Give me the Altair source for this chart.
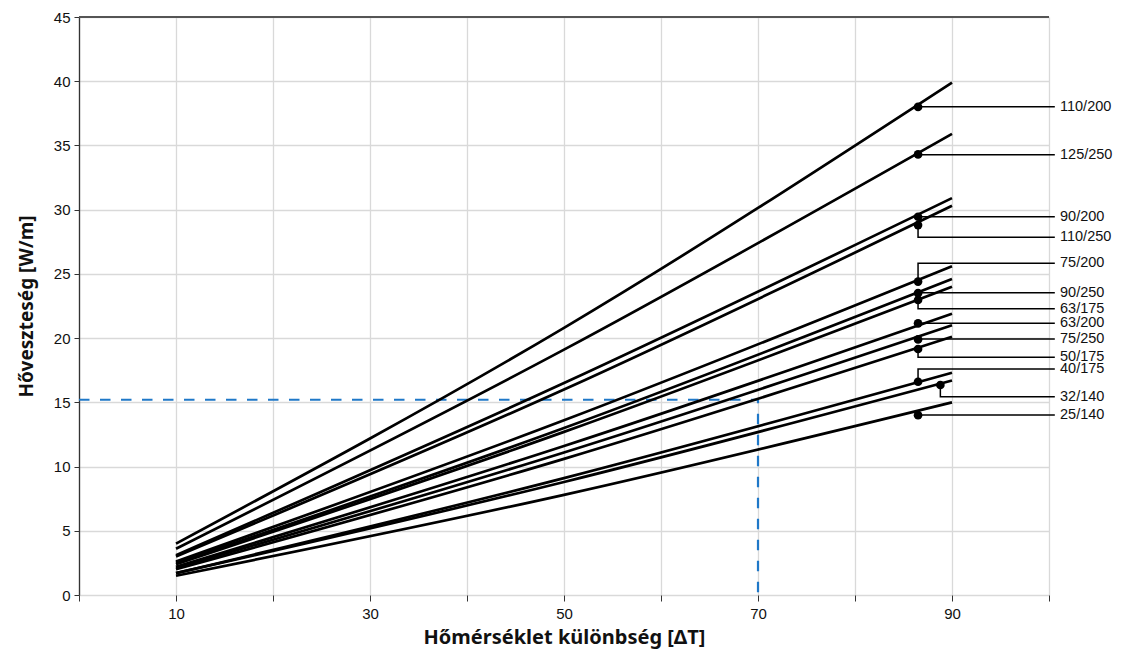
import altair as alt
import pandas as pd

# ---- data ----
series = ["110/200", "125/250", "90/200", "110/250", "75/200", "90/250", "63/175",
          "63/200", "75/250", "50/175", "40/175", "32/140", "25/140"]
dt_points = [10, 50, 90]
q_at_10 = [4.0, 3.6, 3.1, 3.0, 2.6, 2.5, 2.4, 2.2, 2.1, 2.0, 1.7, 1.7, 1.5]
q_at_50 = [20.8, 19.1, 16.5, 16.0, 13.6, 13.0, 12.7, 11.6, 11.1, 10.6, 9.1, 8.8, 7.8]
q_at_90 = [39.9, 35.9, 30.9, 30.3, 25.6, 24.6, 24.0, 21.9, 21.0, 20.1, 17.3, 16.7, 15.0]
dot_dt = [86.5, 86.5, 86.5, 86.5, 86.5, 86.5, 86.5, 86.5, 86.5, 86.5, 86.5, 88.8, 86.5]
dot_q = [38.0, 34.3, 29.45, 28.8, 24.4, 23.5, 22.97, 21.15, 19.9, 19.15, 16.6, 16.35, 14.0]
label_q = [38.02, 34.28, 29.45, 27.85, 25.83, 23.54, 22.29, 21.15, 19.93, 18.51, 17.60, 15.44, 14.01]
ref_dt = [0, 70, 70]
ref_q = [15.2, 15.2, 0]
leader_end_dt = 100.6

x_ticks = [0, 10, 20, 30, 40, 50, 60, 70, 80, 90, 100]
y_ticks = [0, 5, 10, 15, 20, 25, 30, 35, 40, 45]

# ---- tables ----
rows = []
for i, s in enumerate(series):
    for j, (dt, q) in enumerate(zip(dt_points, [q_at_10[i], q_at_50[i], q_at_90[i]])):
        rows.append({"s": s, "dt": dt, "q": q, "o": j})
lines_df = pd.DataFrame(rows)

dots_df = pd.DataFrame({"s": series, "dt": dot_dt, "q": dot_q, "lq": label_q})

lead_rows = []
for i, s in enumerate(series):
    lead_rows.append({"s": s, "dt": dot_dt[i], "q": dot_q[i], "o": 0})
    lead_rows.append({"s": s, "dt": dot_dt[i], "q": label_q[i], "o": 1})
    lead_rows.append({"s": s, "dt": leader_end_dt, "q": label_q[i], "o": 2})
lead_df = pd.DataFrame(lead_rows)

ref_df = pd.DataFrame({"dt": ref_dt, "q": ref_q, "o": [0, 1, 2]})

FONT = "Arial, Liberation Sans, sans-serif"
TFONT = "Noto Sans"

xscale = alt.Scale(domain=[0, 100], nice=False, zero=False)
yscale = alt.Scale(domain=[0, 45], nice=False)

x_axis = alt.Axis(
    values=x_ticks, labelExpr="datum.value % 20 == 10 ? datum.label : ''",
    title="Hőmérséklet különbség [ΔT]", domain=False, grid=True, gridColor="#d9d9d9",
    gridWidth=1.3, tickColor="#333", tickSize=6, labelFont=FONT, labelFontSize=15,
    labelColor="#111", labelPadding=5, titleFont=TFONT, titleFontSize=20,
    titleFontWeight="bold", titleColor="#111", titlePadding=6)
y_axis = alt.Axis(
    values=y_ticks, title="Hőveszteség [W/m]", domain=True, domainColor="#333",
    domainWidth=1.3, grid=True, gridColor="#d9d9d9", gridWidth=1.3, tickColor="#333",
    tickSize=5, labelFont=FONT, labelFontSize=15, labelColor="#111", labelPadding=4,
    titleFont=TFONT, titleFontSize=19, titleFontWeight="bold", titleColor="#111",
    titlePadding=17)

base_lines = alt.Chart(lines_df).mark_line(color="#000", strokeWidth=2.7,
                                           interpolate="monotone").encode(
    x=alt.X("dt:Q", scale=xscale, axis=x_axis),
    y=alt.Y("q:Q", scale=yscale, axis=y_axis),
    detail="s:N", order="o:Q")

top_rule = alt.Chart(pd.DataFrame({"a": [0]})).mark_rule(color="#555", strokeWidth=2).encode(
    x=alt.datum(0), x2=alt.datum(100), y=alt.datum(45))

ref_line = alt.Chart(ref_df).mark_line(color="#1f78c8", strokeWidth=2.2,
                                        strokeDash=[10.5, 10.5]).encode(
    x="dt:Q", y="q:Q", order="o:Q")

leaders = alt.Chart(lead_df).mark_line(color="#000", strokeWidth=1.5).encode(
    x="dt:Q", y="q:Q", detail="s:N", order="o:Q")

dots = alt.Chart(dots_df).mark_circle(color="#000", opacity=1, size=75).encode(
    x="dt:Q", y="q:Q")

labels = alt.Chart(dots_df).mark_text(align="left", baseline="middle", font=FONT,
                                      fontSize=14.5, color="#111").encode(
    x=alt.value(981), y="lq:Q", text="s:N")

chart = alt.layer(ref_line, base_lines, top_rule, leaders, dots, labels).properties(
    width=970, height=578,
    autosize=alt.AutoSizeParams(type="none"),
    padding={"left": 71, "top": 9, "right": 65, "bottom": 54},
).configure_view(stroke=None)

chart.save("out.html", embed_options={"renderer": "svg", "actions": False})
